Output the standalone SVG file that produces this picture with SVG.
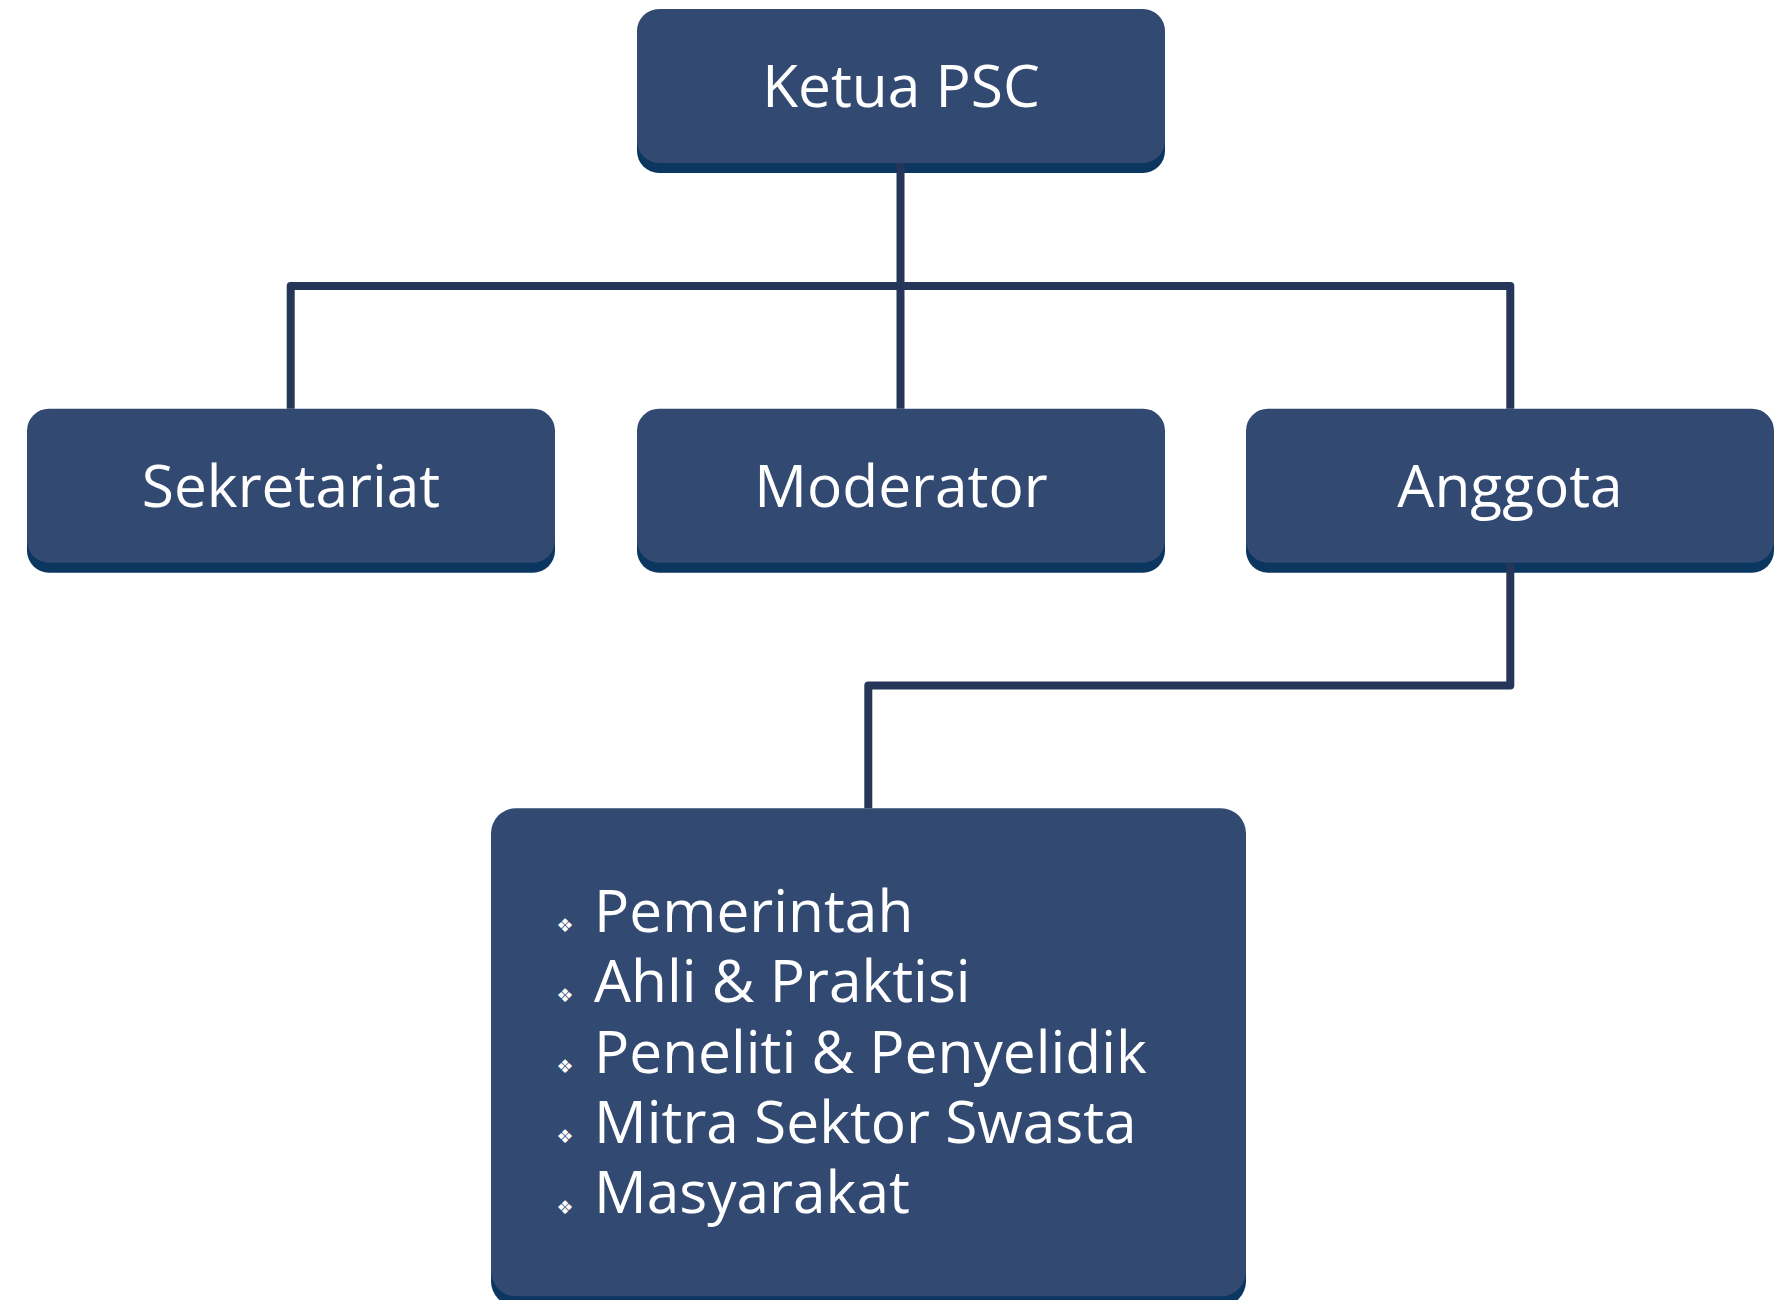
<svg xmlns="http://www.w3.org/2000/svg" width="1778" height="1300" viewBox="0 0 1778 1300">
<style>
.face{fill:#324972}
.shadow{fill:#0b3660}
.lbl{font-family:"Open Sans","Liberation Sans",sans-serif;font-size:58.6px;fill:#ffffff}
.c{text-anchor:middle}
.bul{font-family:"DejaVu Sans",sans-serif;font-size:19px;fill:#ffffff;text-anchor:middle}
.conn{fill:none;stroke:#263658;stroke-width:8;stroke-linejoin:round}
</style>
<rect width="1778" height="1300" fill="#ffffff"/>
<g id="ketua">
<rect class="shadow" x="637" y="19" width="528" height="154" rx="22"/>
<rect class="face" x="637" y="9" width="528" height="154" rx="22"/>
<text class="lbl c" x="901" y="107">Ketua PSC</text>
</g>
<g id="sekretariat">
<rect class="shadow" x="27" y="418.7" width="528" height="154" rx="22"/>
<rect class="face" x="27" y="408.7" width="528" height="154" rx="22"/>
<text class="lbl c" x="291" y="507">Sekretariat</text>
</g>
<g id="moderator">
<rect class="shadow" x="637" y="418.7" width="528" height="154" rx="22"/>
<rect class="face" x="637" y="408.7" width="528" height="154" rx="22"/>
<text class="lbl c" x="901" y="507">Moderator</text>
</g>
<g id="anggota">
<rect class="shadow" x="1246" y="418.7" width="528" height="154" rx="22"/>
<rect class="face" x="1246" y="408.7" width="528" height="154" rx="22"/>
<text class="lbl c" x="1510" y="507">Anggota</text>
</g>
<g id="members">
<rect class="shadow" x="491" y="818.3" width="755" height="488" rx="25"/>
<rect class="face" x="491" y="808.3" width="755" height="488" rx="25"/>
<text class="bul"><tspan x="565" y="932">❖</tspan><tspan x="565" y="1002.4">❖</tspan><tspan x="565" y="1072.8">❖</tspan><tspan x="565" y="1143.2">❖</tspan><tspan x="565" y="1213.6">❖</tspan></text>
<text class="lbl"><tspan x="594" y="931.7">Pemerintah</tspan><tspan x="594" y="1002.1">Ahli &amp; Praktisi</tspan><tspan x="594" y="1072.5">Peneliti &amp; Penyelidik</tspan><tspan x="594" y="1142.9">Mitra Sektor Swasta</tspan><tspan x="594" y="1213.3">Masyarakat</tspan></text>
</g>
<g id="connectors">
<path class="conn" d="M900.5 163 V408.7"/>
<path class="conn" d="M290.7 408.7 V286 H1510.3 V408.7"/>
<path class="conn" d="M1510.3 562.7 V685.5 H868.3 V808.3"/>
</g>
</svg>
